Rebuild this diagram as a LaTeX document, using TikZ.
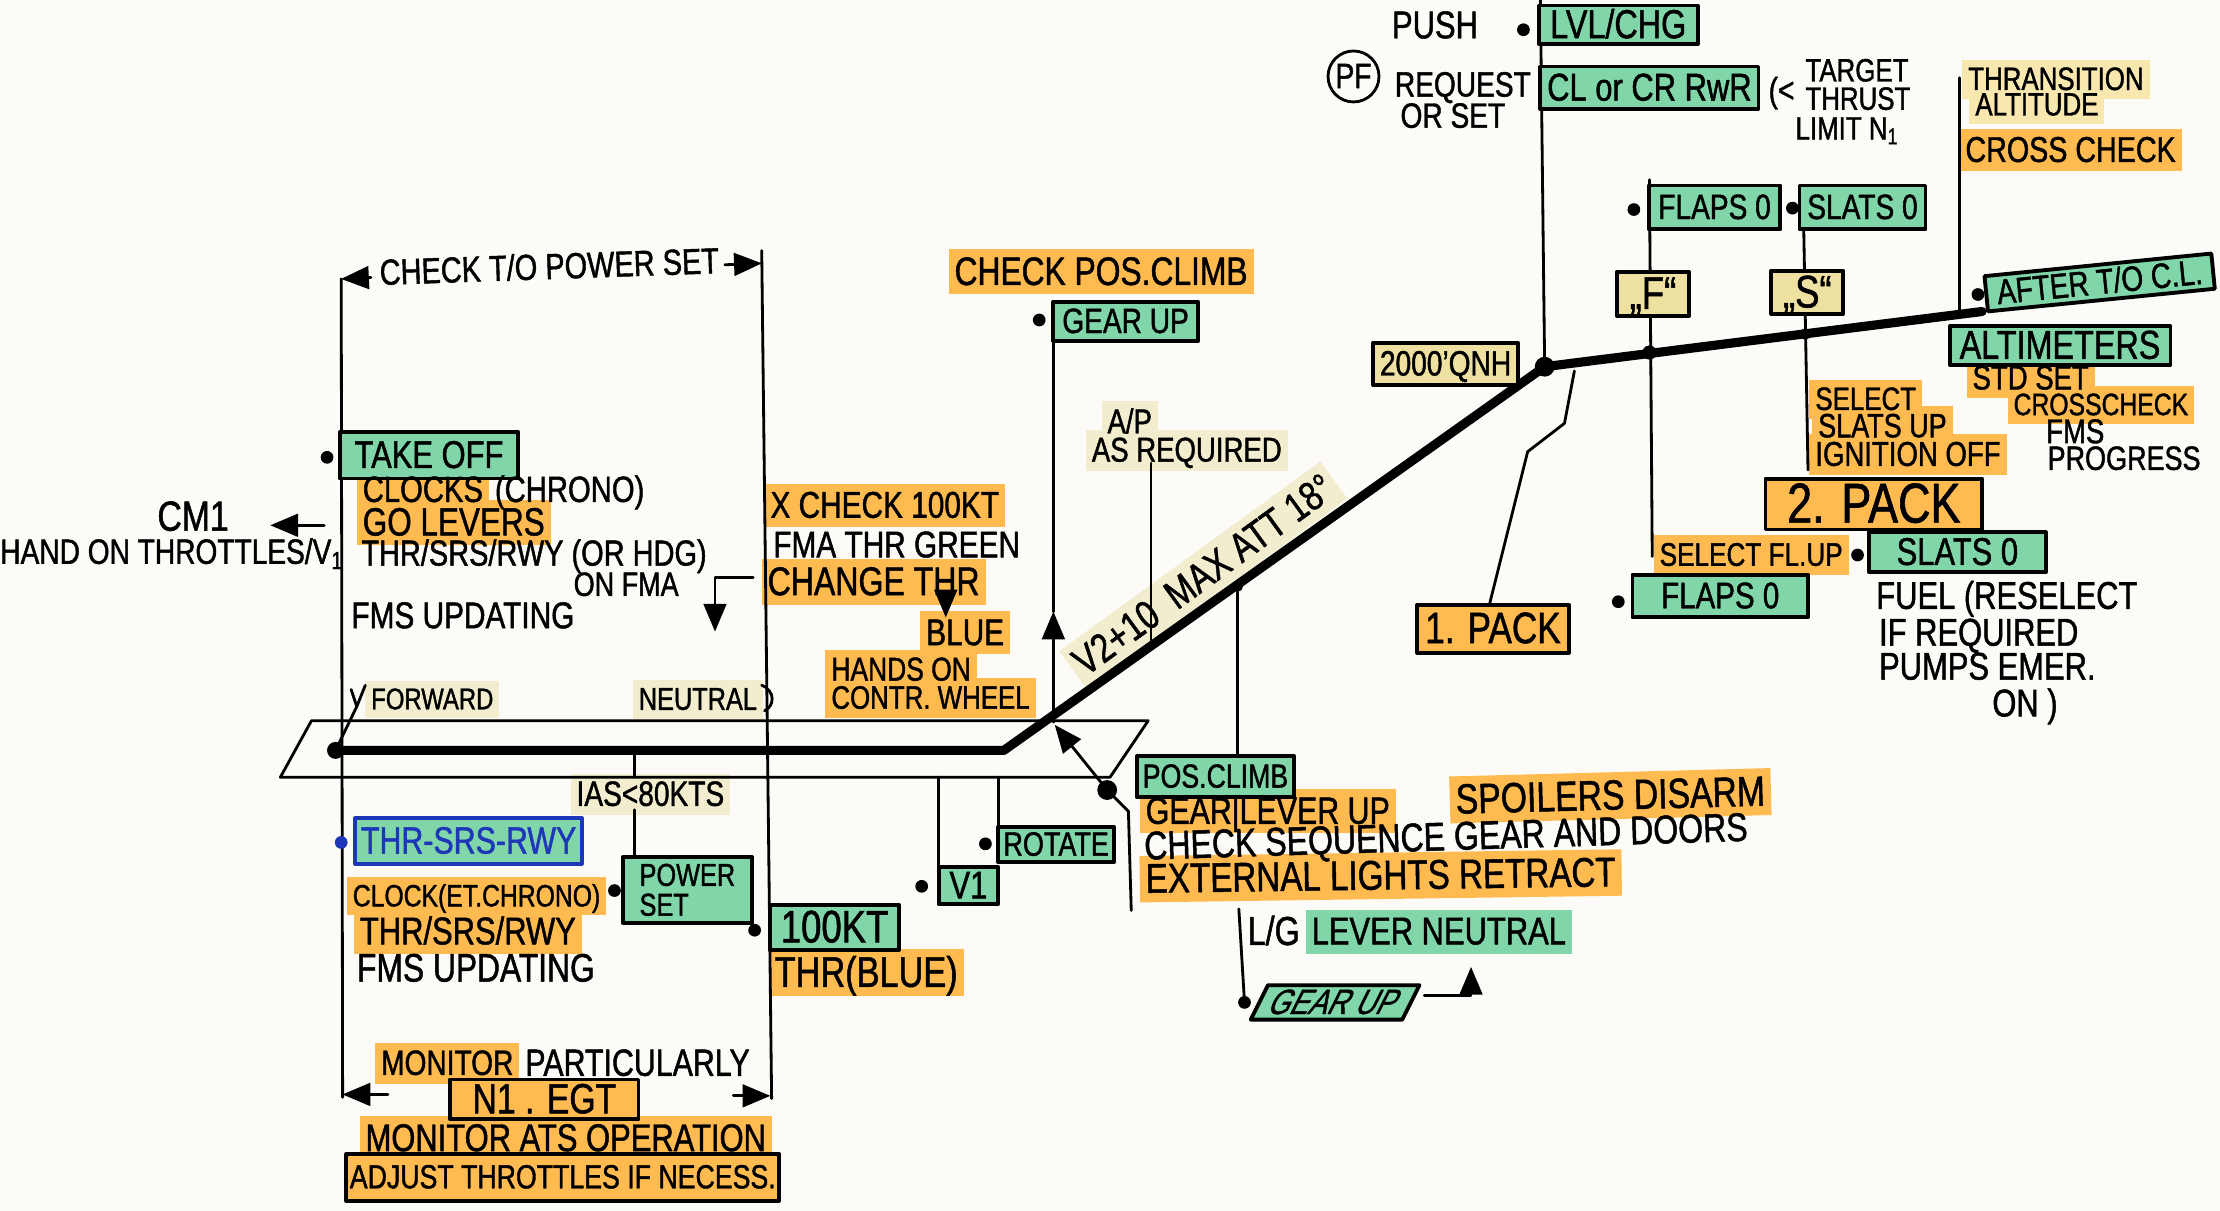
\documentclass[tikz,border=0pt]{standalone}
\usepackage{fontspec}
\setmainfont{Liberation Sans}[FakeStretch=0.8,FakeBold=1.2]
\usetikzlibrary{arrows,backgrounds}

\definecolor{mint}{RGB}{128,214,168}
\definecolor{marker}{RGB}{255,186,80}
\definecolor{straw}{RGB}{238,224,160}
\definecolor{strawhl}{RGB}{248,232,176}
\definecolor{pale}{RGB}{241,237,206}
\definecolor{penblue}{RGB}{30,55,185}
\definecolor{paper}{RGB}{252,251,247}

\tikzset{
  fs/.style={font=\fontsize{#1}{#1}\selectfont, text height=0.72*#1pt, text depth=0.06*#1pt},
  txt/.style={anchor=west, inner xsep=1.5pt, inner ysep=1.8pt, fs=10},
  sz/.style 2 args={minimum width=#1*0.014158cm, minimum height=#2*0.014158cm},
  boxbase/.style={draw, line width=1.1pt, inner sep=1pt, fs=10},
  greenbox/.style={boxbase, fill=mint},
  orangebox/.style={boxbase, fill=marker},
  strawbox/.style={boxbase, fill=straw},
  pen/.style={line width=0.8pt},
  track/.style={line width=2.6pt},
}

% highlighted line of text: colour, name, position, options, text
\newcommand{\marktext}[5]{%
  \node[txt, #4] (#2) at (#3) {#5};
  \begin{pgfonlayer}{background}
    \fill[#1] (#2.south west) -- (#2.south east) -- (#2.north east) -- (#2.north west) -- cycle;
  \end{pgfonlayer}}

\begin{document}
\begin{tikzpicture}[line cap=round,line join=round,>=triangle 45,x=0.014158cm,y=-0.014158cm]
\useasboundingbox (0,0) rectangle (1568,855);
\begin{pgfonlayer}{background}
\fill[paper] (0,0) rectangle (1568,855);
\end{pgfonlayer}

% flight path
\coordinate (start) at (237,530);
\coordinate (bend) at (709,530);
\coordinate (qnhpt) at (1091,259);
\coordinate (clpt) at (1400,220);
% runway
\coordinate (rwA) at (220,509);
\coordinate (rwB) at (811,509);
\coordinate (rwC) at (784,549);
\coordinate (rwD) at (198,549);
% T/O power limits
\coordinate (lTop) at (241,197);
\coordinate (lBot) at (242,775);
\coordinate (rTop) at (538,177);
\coordinate (rBot) at (545,776);
\coordinate (dimTL) at (262,196);
\coordinate (dimTR) at (512,187);
\coordinate (dimTRtip) at (538,186);
\coordinate (dimBL) at (274,773);
\coordinate (dimBLtip) at (242,773);
\coordinate (dimBR) at (518,774);
\coordinate (dimBRtip) at (544,774);
% gear up
\coordinate (gearFoot) at (744,510);
\coordinate (gearTip) at (744,432);
\coordinate (gearHead) at (744,213);
\coordinate (apTop) at (813,327);
\coordinate (apFoot) at (813,455);
\coordinate (gearPt) at (874,414);
\coordinate (pcTop) at (874,534);
\coordinate (lgTop) at (875,642);
\coordinate (lgDot) at (879,708);
% lift off
\coordinate (pcDot) at (782,558);
\coordinate (liftTip) at (745,512);
\coordinate (pcKnee) at (797,573);
\coordinate (pcFoot) at (799,643);
% ground roll
\coordinate (iasTop) at (448,530);
\coordinate (iasMid) at (448,549);
\coordinate (iasLow) at (448,572);
\coordinate (iasFoot) at (448,612);
\coordinate (voneTop) at (663,549);
\coordinate (voneFoot) at (663,638);
\coordinate (rotTop) at (705,549);
\coordinate (rotFoot) at (705,609);
% clean up
\coordinate (fTop) at (1165,127);
\coordinate (fPt) at (1165,249);
\coordinate (fFoot) at (1167,393);
\coordinate (sTop) at (1274,162);
\coordinate (sPt) at (1275,236);
\coordinate (sFoot) at (1277,332);
\coordinate (lvlTop) at (1088,0);
\coordinate (transTop) at (1384,55);
\coordinate (transFoot) at (1384,219);
\coordinate (pkA) at (1052,427);
\coordinate (pkB) at (1079,319);
\coordinate (pkC) at (1105,299);
\coordinate (pkD) at (1112,262);
% small arrows
\coordinate (cmA) at (229,371);
\coordinate (cmB) at (191,371);
\coordinate (fmaA) at (532,408);
\coordinate (fmaB) at (505,408);
\coordinate (fmaC) at (505,446);
\coordinate (blA) at (668,426);
\coordinate (blB) at (668,436);
\coordinate (gbA) at (1006,703);
\coordinate (gbB) at (1039,703);
\coordinate (gbC) at (1039,683);
\coordinate (ckL) at (248,487);
\coordinate (ckV) at (252,499);
\coordinate (ckR) at (258,484);
\coordinate (huA) at (538,484);
\coordinate (huB) at (540,502);

\draw[pen] (lTop) -- (lBot);
\draw[pen] (rTop) -- (rBot);
\draw[pen,->] (dimTL) -- (lTop);
\draw[pen,->] (dimTR) -- (dimTRtip);
\draw[pen,->] (dimBL) -- (dimBLtip);
\draw[pen,->] (dimBR) -- (dimBRtip);
\draw[pen] (rwA) -- (rwB) -- (rwC) -- (rwD) -- cycle;
\draw[pen] (lvlTop) -- (qnhpt);
\draw[pen] (fTop) -- (fFoot);
\draw[pen] (sTop) -- (sFoot);
\draw[pen] (transTop) -- (transFoot);
\draw[pen] (pkA) -- (pkB) -- (pkC) -- (pkD);
\draw[pen,->] (gearFoot) -- (gearTip);
\draw[pen] (gearTip) -- (gearHead);
\draw[pen] (apTop) -- (apFoot);
\draw[pen] (gearPt) -- (pcTop);
\draw[pen] (lgTop) -- (lgDot);
\draw[pen,->] (pcDot) -- (liftTip);
\draw[pen] (pcDot) -- (pcKnee) -- (pcFoot);
\draw[pen] (iasTop) -- (iasMid);
\draw[pen] (iasLow) -- (iasFoot);
\draw[pen] (voneTop) -- (voneFoot);
\draw[pen] (rotTop) -- (rotFoot);
\draw[pen,->] (cmA) -- (cmB);
\draw[pen,->] (fmaA) -- (fmaB) -- (fmaC);
\draw[pen,->] (blA) -- (blB);
\draw[pen,->] (gbA) -- (gbB) -- (gbC);
\draw[pen] (ckL) -- (ckV) -- (ckR);
\draw[pen] (ckV) -- (start);
\draw[pen] (huA) .. controls (548,488) and (547,499) .. (huB);
\draw[track] (start) -- (bend) -- (qnhpt) -- (clpt);

% top right
\node[txt, fs=11] (push) at (979,18) {PUSH};
\node[greenbox, sz={112}{27}, fs=11.5] (lvl) at (1143,17.5) {LVL/CHG};
\node[draw, pen, circle, minimum size=36*0.014158cm, inner sep=0pt, fs=10] (pf) at (956,54) {PF};
\node[txt] (request) at (981,60) {REQUEST};
\node[txt] (orset) at (985,82) {OR SET};
\node[greenbox, sz={154}{30}, fs=11] (clcr) at (1165,62) {CL or CR RwR};
\node[txt] (lessthan) at (1245,64) {(<};
\node[txt, fs=9.2] (target) at (1271,50) {TARGET};
\node[txt, fs=9.2] (thrust) at (1271,70) {THRUST};
\node[txt, fs=9.2] (limit) at (1264,91) {LIMIT N\textsubscript{1}};
\marktext{strawhl}{trans}{1386,56}{fs=9.2}{THRANSITION}
\marktext{strawhl}{altitude}{1391,74}{fs=9.2}{ALTITUDE}
\marktext{marker}{xcheckTop}{1384,106}{fs=10.2}{CROSS CHECK}
\node[greenbox, sz={93}{31}] (flapsA) at (1211,146.5) {FLAPS 0};
\node[greenbox, sz={89}{31}] (slatsA) at (1315.5,146.5) {SLATS 0};
\node[strawbox, sz={51}{31}, fs=13] (fbox) at (1167.5,207.5) {„F“};
\node[strawbox, sz={51}{29}, fs=13] (sbox) at (1276.5,206.5) {„S“};
\node[strawbox, sz={102}{30}] (qnh) at (1021,257) {2000'QNH};
\node[greenbox, sz={161}{25}, rotate=5.7] (after) at (1483,199.5) {AFTER T/O C.L.};
\node[greenbox, sz={156}{26}, fs=11.5] (altim) at (1455,244) {ALTIMETERS};
\marktext{marker}{stdset}{1389,267}{fs=9.8}{STD SET}
\marktext{marker}{xcheckFms}{1418,286}{fs=8.8}{CROSSCHECK}
\node[txt, fs=9.8] (fms) at (1441,305) {FMS};
\node[txt, fs=9.6] (progress) at (1442,324) {PROGRESS};
\marktext{marker}{select}{1278,282}{fs=9.2}{SELECT}
\marktext{marker}{slatsup}{1280,301}{fs=9.6}{SLATS UP}
\marktext{marker}{ignition}{1278,321}{fs=9.8}{IGNITION OFF}
\node[orangebox, sz={153}{34}, fs=16] (pack2) at (1323.5,356) {2. PACK};
\marktext{marker}{selectfl}{1168,392}{fs=9.3}{SELECT FL.UP}
\node[greenbox, sz={125}{28}, fs=11] (slatsB) at (1382.5,390) {SLATS 0};
\node[greenbox, sz={124}{30}, fs=10.5] (flapsB) at (1215,421) {FLAPS 0};
\node[orangebox, sz={107}{34}, fs=12.5] (pack1) at (1054.5,444) {1. PACK};
\node[txt, fs=11] (fuel) at (1321,421) {FUEL (RESELECT};
\node[txt, fs=11] (ifreq) at (1323,447) {IF REQUIRED};
\node[txt, fs=11] (pumps) at (1323,471) {PUMPS EMER.};
\node[txt, fs=11] (pumpson) at (1403,497) {ON )};

% climb
\marktext{marker}{checkpos}{670,192}{fs=11.3}{CHECK POS.CLIMB}
\node[greenbox, sz={102}{28}] (gearA) at (795,227) {GEAR UP};
\marktext{pale}{ap}{778,298}{fs=9.8}{A/P}
\marktext{pale}{asreq}{767,318}{fs=9.8}{AS REQUIRED}
\marktext{pale}{climbtxt}{850,406}{anchor=center, rotate=36, fs=11.6}{V2+10 \ MAX ATT 18°}

% take off
\node[txt, rotate=2, fs=10.3] (checkto) at (264,193) {CHECK T/O POWER SET};
\node[greenbox, sz={126}{33}, fs=11] (takeoff) at (303,321.5) {TAKE OFF};
\marktext{marker}{clocks}{252,346}{fs=10.4}{CLOCKS}
\node[txt, fs=10.4] (chrono) at (clocks.east) {(CHRONO)};
\marktext{marker}{golevers}{252,369}{fs=11.2}{GO LEVERS}
\node[txt, fs=10.3] (thrfma) at (251,391) {THR/SRS/RWY (OR HDG)};
\node[txt, fs=9.6] (onfma) at (401,413) {ON FMA};
\node[txt, fs=10.6] (fmsupd) at (244,435) {FMS UPDATING};
\node[txt, fs=12] (cm) at (107,365) {CM1};
\node[txt] (hand) at (-4,390) {HAND ON THROTTLES/V\textsubscript{1}};
\marktext{marker}{xcheck}{540,357}{fs=10.6}{X CHECK 100KT}
\node[txt, fs=10.6] (fmathr) at (542,385) {FMA THR GREEN};
\marktext{marker}{change}{538,411}{fs=11.4}{CHANGE THR}
\marktext{marker}{blue}{650,447}{fs=10.6}{BLUE}
\marktext{marker}{hands}{583,473}{fs=9.4}{HANDS ON}
\marktext{marker}{wheel}{583,493}{fs=9.2}{CONTR. WHEEL}
\marktext{pale}{forward}{258,494}{fs=8.5}{FORWARD}
\marktext{pale}{neutral}{447,494}{fs=9}{NEUTRAL}
\marktext{pale}{ias}{403,561}{fs=10}{IAS<80KTS}

% ground roll
\node[greenbox, draw=penblue, text=penblue, sz={160}{32}, fs=10.8] (thrsrs) at (331,594) {THR-SRS-RWY};
\node[draw, line width=1.1pt, fill=mint, sz={91}{33}, inner sep=2pt, align=left, font=\fontsize{9}{8.5}\selectfont] (power) at (485.5,628.5) {POWER\\SET};
\node[greenbox, sz={91}{32}, fs=13] (kt100) at (589.5,655) {100KT};
\node[greenbox, sz={42}{25}, fs=11] (vone) at (684,625.5) {V1};
\node[greenbox, sz={82}{25}, fs=9.6] (rotate) at (746,596.5) {ROTATE};
\marktext{marker}{clock}{245,633}{fs=8.8}{CLOCK(ET.CHRONO)}
\marktext{marker}{thrsrsb}{250,658}{fs=11}{THR/SRS/RWY}
\node[txt, fs=11.3] (fmsupdb) at (248,684) {FMS UPDATING};
\marktext{marker}{thrblue}{543,687}{fs=12.2}{THR(BLUE)}

% after lift off
\node[greenbox, sz={111}{29}, fs=9.5] (posclimb) at (858.5,548.5) {POS.CLIMB};
\marktext{marker}{gearlever}{805,573}{fs=10.8}{GEAR|LEVER UP}
\marktext{marker}{spoilers}{1024,565}{fs=12, rotate=1.5}{SPOILERS DISARM}
\node[txt, fs=11.4, rotate=1.8] (checkseq) at (804,598) {CHECK SEQUENCE GEAR AND DOORS};
\marktext{marker}{external}{805,621}{fs=11.8, rotate=0.8}{EXTERNAL LIGHTS RETRACT}
\node[txt, fs=11.5] (lg) at (877,658) {L/G};
\marktext{mint}{leverneutral}{lg.east}{fs=11}{LEVER NEUTRAL}
\node[greenbox, sz={107}{24}, xslant=0.5] (gearB) at (943,708) {GEAR UP};

% monitoring
\marktext{marker}{monitor}{265,751}{fs=10}{MONITOR}
\node[txt, fs=10.8] (particularly) at (monitor.east) {PARTICULARLY};
\node[orangebox, sz={133}{27}, fs=12] (egt) at (384.5,776.5) {N1 . EGT};
\marktext{marker}{monats}{254,804}{fs=11}{MONITOR ATS OPERATION}
\node[orangebox, sz={301}{33}, fs=9.5] (adjust) at (397.5,831.5) {ADJUST THROTTLES IF NECESS.};

% dots
\fill (start) circle (6);
\fill (qnhpt) circle (7);
\fill (fPt) circle (5);
\fill (sPt) circle (4);
\fill (gearPt) circle (4);
\fill (pcDot) circle (7);
\fill (lgDot) circle (4.5);
\fill (231,323) circle (4.5);
\fill (734,226) circle (4.5);
\fill (434,629) circle (4.5);
\fill (533,657) circle (4.5);
\fill (651,626) circle (4.5);
\fill (696,596) circle (4.5);
\fill (1076,21) circle (4.5);
\fill (1154,148) circle (4.5);
\fill (1266,147) circle (4.5);
\fill (1397,208) circle (4.5);
\fill (1312,392) circle (4.5);
\fill (1143,425) circle (4.5);
\fill[penblue] (241,595) circle (4.5);
\end{tikzpicture}
\end{document}
